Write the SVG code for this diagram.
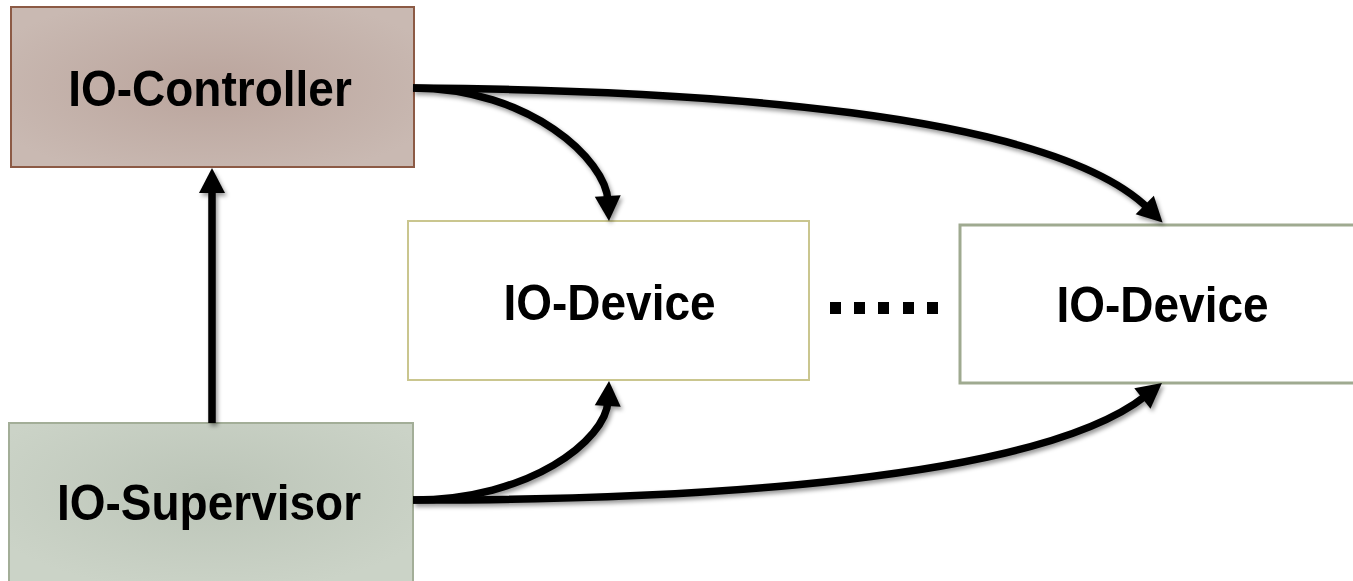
<svg xmlns="http://www.w3.org/2000/svg" width="1353" height="581" viewBox="0 0 1353 581">
  <style>
    .lbl { font-family: "Liberation Sans", Arial, sans-serif; font-weight: bold; font-size: 46px; fill: #000; text-anchor: middle; }
    .conn { fill: none; stroke: #000; stroke-width: 7.5; marker-end: url(#arrow); }
    .dot { fill: #000; }
  </style>
  <defs>
    <radialGradient id="gCtrl" cx="50%" cy="50%" r="60%">
      <stop offset="0" stop-color="#baa49c"/>
      <stop offset="1" stop-color="#c9b9b2"/>
    </radialGradient>
    <radialGradient id="gSup" cx="50%" cy="40%" r="60%">
      <stop offset="0" stop-color="#bcc5b8"/>
      <stop offset="1" stop-color="#cbd3c7"/>
    </radialGradient>
    <filter id="shadow" x="-10%" y="-10%" width="120%" height="130%">
      <feDropShadow dx="2" dy="3" stdDeviation="2" flood-color="#000" flood-opacity="0.4"/>
    </filter>
    <marker id="arrow" markerUnits="userSpaceOnUse" markerWidth="40" markerHeight="40" refX="0" refY="0" orient="auto" overflow="visible">
      <path d="M-5,-13 L20,0 L-5,13 Z" fill="#000"/>
    </marker>
  </defs>

  <g id="node-controller">
    <rect x="11" y="7" width="403" height="160" fill="url(#gCtrl)" stroke="#8c5a45" stroke-width="2"/>
    <text class="lbl" transform="translate(210,106) scale(1,1.1)">IO-Controller</text>
  </g>

  <g id="node-supervisor">
    <rect x="9" y="423" width="404" height="170" fill="url(#gSup)" stroke="#a3ae98" stroke-width="2"/>
    <text class="lbl" transform="translate(209,520) scale(1,1.1)">IO-Supervisor</text>
  </g>

  <g id="node-device1">
    <rect x="408" y="221" width="401" height="159" fill="#fff" stroke="#cac68f" stroke-width="2"/>
    <text class="lbl" transform="translate(609.5,320) scale(1,1.1)">IO-Device</text>
  </g>

  <g id="node-device2">
    <rect x="960" y="225" width="410" height="158" fill="#fff" stroke="#9faa90" stroke-width="3"/>
    <text class="lbl" transform="translate(1162.5,322) scale(1,1.1)">IO-Device</text>
  </g>

  <g id="ellipsis">
    <rect class="dot" x="830" y="302" width="11" height="12"/>
    <rect class="dot" x="854" y="302" width="11" height="12"/>
    <rect class="dot" x="878" y="302" width="11" height="12"/>
    <rect class="dot" x="903" y="302" width="11" height="12"/>
    <rect class="dot" x="927" y="302" width="11" height="12"/>
  </g>

  <g id="connectors" filter="url(#shadow)">
    <path class="conn" d="M212,423 L212,188"/>
    <path class="conn" d="M413,88 C530,88 606,160 608,201"/>
    <path class="conn" d="M413,88 C700,90 1050,112 1148.3,208.5"/>
    <path class="conn" d="M413,500 C530,500 606,440 608,401"/>
    <path class="conn" d="M413,500 C700,500 1040,480 1146.3,395.4"/>
  </g>
</svg>
